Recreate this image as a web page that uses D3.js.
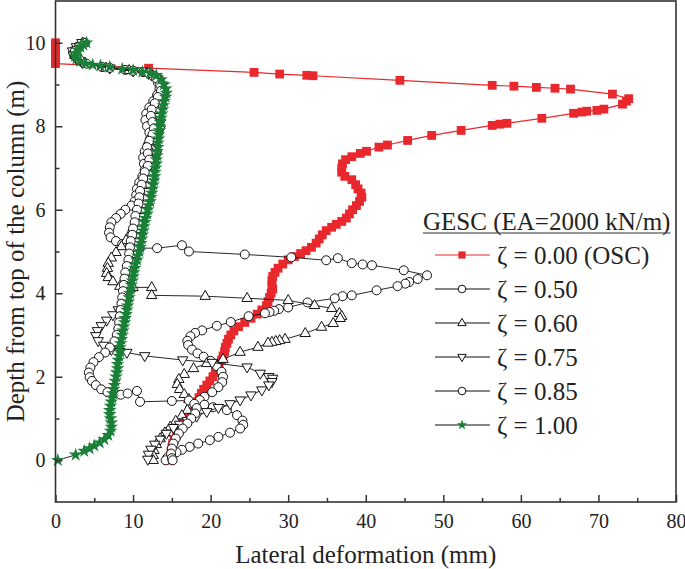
<!DOCTYPE html>
<html><head><meta charset="utf-8">
<script src="https://cdn.jsdelivr.net/npm/d3@7"></script>
<style>
body{margin:0;background:#fff}
svg{display:block}
text{font-family:"Liberation Serif","Times New Roman",serif;fill:#222}
</style>
</head><body>
<svg id="c" width="685" height="569"></svg>
<script>
// ---------- data ----------
const xTicks = [0,10,20,30,40,50,60,70,80];
const xMinor = [5,15,25,35,45,55,65,75];
const yTicks = [0,2,4,6,8,10];
const yMinor = [1,3,5,7,9];
const legendTitle = "GESC (EA=2000 kN/m)";
const seriesLabels = ["ζ = 0.00 (OSC)","ζ = 0.50","ζ = 0.60","ζ = 0.75","ζ = 0.85","ζ = 1.00"];

// [lateral deformation (mm), depth from top (m)]
const zeta000 = [[0,10.0],[0,9.95],[0,9.9],[0,9.85],[0,9.8],[0,9.75],[0,9.7],[0,9.65],[0,9.6],[0,9.55],[0,9.5],
[12.0,9.39],[25.6,9.29],[28.9,9.25],[32.4,9.22],[33.2,9.21],[44.4,9.1],[56.3,8.98],[59.1,8.96],[62.0,8.93],[64.4,8.91],[66.4,8.89],[71.8,8.77],[73.9,8.66],[73.6,8.6],[73.1,8.53],[70.7,8.41],[69.8,8.38],[68.5,8.36],[67.9,8.34],[66.8,8.31],[62.7,8.19],[58.2,8.07],[57.3,8.05],[56.3,8.02],[52.3,7.9],[48.5,7.78],[45.4,7.66],[42.8,7.55],[41.7,7.5],[40.1,7.4],[39.3,7.35],[38.2,7.27],[37.4,7.2],[37.0,7.1],[36.9,7.0],[36.9,6.9],[37.3,6.8],[38.2,6.72],[38.7,6.6],[39.0,6.5],[39.4,6.4],[39.5,6.3],[39.2,6.2],[38.8,6.1],[38.3,6.0],[37.9,5.9],[37.5,5.8],[36.9,5.72],[36.2,5.65],[35.6,5.58],[34.9,5.5],[34.4,5.4],[34.0,5.3],[33.6,5.2],[33.0,5.1],[32.3,5.02],[31.6,4.95],[30.8,4.88],[30.0,4.8],[29.3,4.7],[28.7,4.6],[28.3,4.5],[28.0,4.4],[27.9,4.3],[27.9,4.2],[28.0,4.1],[27.8,4.0],[27.6,3.9],[27.4,3.8],[27.2,3.7],[26.6,3.6],[26.0,3.5],[25.2,3.4],[24.4,3.3],[23.6,3.2],[23.0,3.1],[22.6,3.0],[22.3,2.9],[22.1,2.8],[21.9,2.7],[21.8,2.6],[21.6,2.5],[21.4,2.4],[21.1,2.3],[20.8,2.2],[20.6,2.1],[20.3,2.0],[19.9,1.9],[19.5,1.8],[19.1,1.7],[18.8,1.6],[18.5,1.5],[18.2,1.4],[17.9,1.3],[17.6,1.2],[17.2,1.1],[16.8,1.0],[16.5,0.9],[16.2,0.8],[15.9,0.7],[15.6,0.6],[15.3,0.5],[15.1,0.4],[15.0,0.3],[14.9,0.2],[14.8,0.1],[14.8,0.0]];

const zeta050 = [[3.6,10.0],[2.8,9.9],[2.3,9.8],[2.4,9.7],[2.9,9.6],[3.6,9.52],[6.0,9.42],[9.0,9.35],[11.3,9.3],[12.6,9.2],[13.2,9.05],[13.4,8.9],[13.1,8.75],[12.6,8.6],[12.1,8.45],[11.7,8.3],[11.6,8.15],[11.8,8.0],[12.1,7.85],[12.2,7.7],[11.9,7.55],[11.5,7.4],[11.3,7.25],[11.4,7.1],[11.5,6.95],[11.2,6.8],[10.8,6.65],[10.5,6.5],[10.4,6.35],[10.2,6.2],[9.8,6.1],[9.0,6.0],[8.4,5.9],[7.8,5.8],[7.2,5.7],[7.0,5.58],[6.9,5.45],[7.1,5.34],[7.8,5.25],[8.6,5.18],[9.6,5.12],[10.8,5.08],[13.1,5.08],[16.3,5.15],[17.2,5.0],[24.4,4.93],[30.4,4.86],[34.9,4.79],[36.4,4.84],[38.2,4.72],[39.6,4.69],[40.8,4.67],[44.9,4.55],[47.9,4.43],[46.7,4.34],[45.6,4.27],[45.1,4.23],[44.1,4.17],[41.4,4.07],[38.2,3.95],[37.0,3.93],[36.0,3.88],[32.5,3.78],[30.0,3.66],[28.8,3.62],[28.2,3.58],[27.6,3.55],[27.0,3.52],[24.9,3.45],[22.6,3.31],[20.8,3.22],[18.9,3.11],[18.0,3.05],[17.4,2.97],[17.0,2.86],[17.1,2.76],[17.6,2.65],[18.3,2.56],[19.1,2.48],[20.0,2.38],[20.8,2.25],[21.4,2.12],[21.6,2.0],[21.5,1.87],[21.0,1.75],[20.2,1.63],[19.2,1.52],[18.6,1.44],[19.2,1.33],[20.3,1.27],[22.1,1.2],[23.4,1.08],[24.1,0.95],[24.2,0.85],[23.8,0.76],[22.5,0.66],[21.0,0.56],[19.9,0.48],[18.4,0.4],[17.3,0.32],[16.3,0.25],[15.6,0.19],[14.9,0.12],[14.4,0.06],[14.2,0.0]];

const zeta060 = [[3.5,10.0],[2.9,9.9],[2.4,9.8],[2.5,9.7],[3.0,9.6],[3.8,9.52],[6.5,9.4],[9.5,9.34],[11.8,9.28],[13.0,9.17],[13.7,9.02],[13.9,8.87],[13.7,8.72],[13.4,8.57],[13.1,8.42],[13.0,8.27],[13.2,8.12],[13.3,7.97],[13.0,7.82],[12.7,7.67],[12.6,7.52],[12.8,7.37],[12.7,7.22],[12.4,7.07],[12.1,6.92],[12.0,6.77],[11.8,6.62],[11.5,6.47],[11.3,6.32],[11.1,6.17],[10.9,6.02],[10.6,5.87],[10.3,5.72],[10.0,5.57],[9.6,5.42],[9.1,5.27],[8.5,5.12],[7.8,4.98],[7.2,4.85],[6.8,4.72],[6.7,4.6],[6.6,4.48],[6.8,4.38],[7.4,4.28],[8.3,4.17],[10.0,4.14],[12.4,4.14],[12.4,3.95],[19.3,3.93],[24.7,3.88],[30.0,3.83],[33.4,3.71],[35.6,3.64],[36.6,3.52],[36.9,3.45],[36.7,3.4],[35.8,3.28],[34.3,3.19],[32.2,3.04],[29.6,2.9],[28.9,2.87],[28.4,2.85],[27.9,2.83],[27.4,2.81],[26.1,2.71],[23.8,2.59],[21.6,2.42],[19.5,2.32],[17.8,2.2],[16.6,2.06],[15.9,1.94],[15.7,1.82],[16.0,1.7],[16.6,1.58],[17.2,1.46],[17.4,1.33],[17.0,1.2],[16.3,1.07],[15.5,0.94],[14.8,0.8],[14.1,0.66],[13.5,0.52],[13.0,0.38],[12.7,0.24],[12.6,0.12],[12.6,0.0]];

const zeta075 = [[3.4,10.0],[2.7,9.9],[2.2,9.8],[2.3,9.7],[2.8,9.6],[3.5,9.52],[7.0,9.39],[10.0,9.32],[12.0,9.26],[13.2,9.13],[13.8,8.98],[14.0,8.83],[13.8,8.68],[13.5,8.53],[13.3,8.38],[13.3,8.23],[13.5,8.08],[13.5,7.93],[13.2,7.78],[12.9,7.63],[12.9,7.48],[13.0,7.33],[12.8,7.18],[12.5,7.03],[12.3,6.88],[12.2,6.73],[12.0,6.58],[11.8,6.43],[11.6,6.28],[11.4,6.13],[11.2,5.98],[11.0,5.83],[10.8,5.68],[10.7,5.53],[10.5,5.38],[10.4,5.23],[10.2,5.08],[10.0,4.93],[9.9,4.78],[9.7,4.63],[9.6,4.48],[9.5,4.33],[9.3,4.18],[9.1,4.03],[8.9,3.88],[8.6,3.73],[8.1,3.6],[7.4,3.48],[6.6,3.35],[5.9,3.22],[5.4,3.1],[5.2,2.98],[5.5,2.86],[6.2,2.75],[7.2,2.65],[8.3,2.6],[9.2,2.58],[11.5,2.5],[16.4,2.4],[20.2,2.34],[24.7,2.23],[26.4,2.08],[27.5,2.0],[28.0,1.96],[27.9,1.88],[27.5,1.8],[26.6,1.68],[25.2,1.56],[23.8,1.44],[22.5,1.35],[21.0,1.26],[19.5,1.16],[18.2,1.05],[17.0,0.95],[16.0,0.86],[15.2,0.78],[14.3,0.64],[13.5,0.5],[12.8,0.38],[12.3,0.26],[12.0,0.14],[11.9,0.02]];

const zeta085 = [[3.8,10.0],[3.0,9.9],[2.5,9.8],[2.6,9.7],[3.1,9.6],[4.0,9.5],[7.0,9.4],[10.0,9.33],[12.0,9.27],[13.0,9.15],[13.5,9.0],[13.6,8.85],[13.2,8.7],[12.8,8.55],[12.4,8.4],[12.3,8.25],[12.5,8.1],[12.7,7.95],[12.5,7.8],[12.1,7.65],[11.8,7.5],[11.9,7.35],[12.1,7.2],[11.9,7.05],[11.5,6.9],[11.3,6.75],[11.1,6.6],[10.9,6.45],[10.8,6.3],[10.7,6.15],[10.5,6.0],[10.3,5.85],[10.2,5.7],[10.0,5.55],[9.9,5.4],[9.7,5.25],[9.6,5.1],[9.5,4.95],[9.4,4.8],[9.2,4.65],[9.0,4.5],[8.9,4.35],[8.8,4.2],[8.7,4.05],[8.6,3.9],[8.5,3.75],[8.4,3.6],[8.3,3.45],[8.2,3.3],[8.1,3.15],[7.9,3.0],[7.6,2.85],[7.0,2.7],[6.4,2.58],[5.6,2.47],[4.9,2.35],[4.5,2.22],[4.3,2.1],[4.4,1.99],[4.7,1.9],[5.2,1.8],[5.9,1.7],[6.7,1.63],[7.6,1.6],[8.4,1.57],[9.3,1.6],[10.5,1.66],[10.9,1.4],[15.0,1.42],[17.2,1.43],[17.9,1.35],[18.2,1.25],[18.0,1.12],[17.5,1.0],[17.0,0.88],[16.4,0.76],[15.9,0.64],[15.5,0.52],[15.2,0.4],[15.0,0.28],[14.9,0.16],[15.0,0.05],[15.1,0.0]];

const zeta100 = [[4.0,10.0],[3.6,9.95],[3.2,9.9],[2.9,9.83],[2.6,9.75],[2.5,9.68],[2.7,9.62],[3.2,9.56],[3.9,9.5],[4.8,9.47],[5.8,9.45],[7.0,9.42],[8.6,9.37],[10.0,9.34],[11.2,9.3],[12.2,9.27],[13.0,9.22],[13.6,9.12],[14.0,9.0],[14.2,8.9],[14.3,8.8],[14.2,8.7],[14.0,8.6],[13.9,8.5],[13.8,8.4],[13.7,8.3],[13.6,8.2],[13.5,8.1],[13.4,8.0],[13.4,7.9],[13.3,7.8],[13.3,7.7],[13.2,7.6],[13.2,7.5],[13.1,7.4],[13.1,7.3],[13.0,7.2],[13.0,7.1],[12.9,7.0],[12.8,6.9],[12.8,6.8],[12.7,6.7],[12.6,6.6],[12.5,6.5],[12.4,6.4],[12.3,6.3],[12.2,6.2],[12.0,6.1],[11.9,6.0],[11.8,5.9],[11.6,5.8],[11.5,5.7],[11.4,5.6],[11.3,5.5],[11.2,5.4],[11.1,5.3],[11.0,5.2],[10.9,5.1],[10.8,5.0],[10.6,4.9],[10.5,4.8],[10.3,4.7],[10.2,4.6],[10.1,4.5],[10.0,4.4],[9.9,4.3],[9.8,4.2],[9.7,4.1],[9.6,4.0],[9.5,3.9],[9.4,3.8],[9.3,3.7],[9.2,3.6],[9.1,3.5],[9.0,3.4],[8.9,3.3],[8.8,3.2],[8.7,3.1],[8.6,3.0],[8.5,2.9],[8.4,2.8],[8.3,2.7],[8.3,2.6],[8.2,2.5],[8.1,2.4],[8.0,2.3],[8.0,2.2],[7.9,2.1],[7.8,2.0],[7.7,1.9],[7.6,1.8],[7.5,1.7],[7.4,1.6],[7.3,1.5],[7.2,1.4],[7.1,1.3],[7.0,1.2],[7.0,1.1],[7.1,1.0],[7.2,0.9],[7.2,0.8],[7.1,0.7],[6.8,0.6],[6.3,0.5],[5.7,0.42],[5.0,0.35],[4.4,0.28],[3.7,0.22],[2.6,0.13],[0.3,0.0]];

// ---------- layout ----------
const svg=d3.select("#c");
const x=d3.scaleLinear().domain([0,80]).range([55.5,676]);
const y=d3.scaleLinear().domain([-1,11]).range([502,1]);
const RED="#e8282c", GREEN="#1a7f37", INK="#222";

const markerPaths={
  square:"M-4.4,-4.4H4.4V4.4H-4.4Z",
  up:"M0,-5.8L5.2,3.2L-5.2,3.2Z",
  down:"M0,5.8L5.2,-3.2L-5.2,-3.2Z",
  star:d3.symbol(d3.symbolStar,58)()
};
const legendMarkerPaths={
  square:"M-3.6,-3.6H3.6V3.6H-3.6Z",
  up:"M0,-4.6L4.2,2.6L-4.2,2.6Z",
  down:"M0,4.6L4.2,-2.6L-4.2,-2.6Z",
  star:d3.symbol(d3.symbolStar,34)()
};

const series=[
  {label:seriesLabels[0],data:zeta000,marker:"square",fill:RED,stroke:"none",line:RED,lw:1.2},
  {label:seriesLabels[1],data:zeta050,marker:"circle",fill:"#fff",stroke:"#111",line:"#111",lw:0.9},
  {label:seriesLabels[2],data:zeta060,marker:"up",fill:"#fff",stroke:"#111",line:"#111",lw:0.9},
  {label:seriesLabels[3],data:zeta075,marker:"down",fill:"#fff",stroke:"#111",line:"#111",lw:0.9},
  {label:seriesLabels[4],data:zeta085,marker:"circle",fill:"#fff",stroke:"#111",line:"#111",lw:0.9},
  {label:seriesLabels[5],data:zeta100,marker:"star",fill:GREEN,stroke:"none",line:"#111",lw:0.9}
];

const plot=svg.append("g");
const lineGen=d3.line().x(d=>x(d[0])).y(d=>y(d[1]));

function drawMarker(g,m,fill,stroke,paths,r){
  if(m==="circle"){
    g.append("circle").attr("r",r).attr("fill",fill).attr("stroke",stroke).attr("stroke-width",1);
  } else {
    g.append("path").attr("d",paths[m]).attr("fill",fill).attr("stroke",stroke).attr("stroke-width",1);
  }
}

series.forEach(s=>{
  const g=plot.append("g");
  g.append("path").attr("d",lineGen(s.data)).attr("fill","none").attr("stroke",s.line).attr("stroke-width",s.lw);
  s.data.forEach(d=>{
    const mg=g.append("g").attr("transform",`translate(${x(d[0])},${y(d[1])})`);
    drawMarker(mg,s.marker,s.fill,s.stroke,markerPaths,4.5);
  });
});

// ---------- axes ----------
const xAxis=svg.append("g").attr("transform",`translate(0,${y(-1)})`)
  .call(d3.axisBottom(x).tickValues(xTicks).tickSizeInner(-7).tickSizeOuter(0).tickPadding(12).tickFormat(d3.format("d")));
const xAxisMinor=svg.append("g").attr("transform",`translate(0,${y(-1)})`)
  .call(d3.axisBottom(x).tickValues(xMinor).tickSizeInner(-4).tickSizeOuter(0).tickFormat(""));
const yAxis=svg.append("g").attr("transform",`translate(${x(0)},0)`)
  .call(d3.axisLeft(y).tickValues(yTicks).tickSizeInner(-7).tickSizeOuter(0).tickPadding(10).tickFormat(d3.format("d")));
const yAxisMinor=svg.append("g").attr("transform",`translate(${x(0)},0)`)
  .call(d3.axisLeft(y).tickValues(yMinor).tickSizeInner(-4).tickSizeOuter(0).tickFormat(""));
[xAxis,xAxisMinor,yAxis,yAxisMinor].forEach(a=>{
  a.select(".domain").remove();
  a.selectAll(".tick line").attr("stroke","#333").attr("stroke-width",1.5);
  a.selectAll(".tick text").attr("font-family","Liberation Serif").attr("font-size",20).attr("fill",INK);
});

// frame
svg.append("rect").attr("x",x(0)).attr("y",y(11)).attr("width",x(80)-x(0)).attr("height",y(-1)-y(11))
  .attr("fill","none").attr("stroke","#333").attr("stroke-width",1.6);

// axis titles
svg.append("text").attr("x",(x(0)+x(80))/2).attr("y",563).attr("text-anchor","middle")
  .attr("font-size",25).text("Lateral deformation (mm)");
svg.append("text").attr("transform",`translate(24,${y(5)}) rotate(-90)`).attr("text-anchor","middle")
  .attr("font-size",25).text("Depth from top of the column (m)");

// ---------- legend ----------
const lg=svg.append("g");
const title=lg.append("text").attr("x",423).attr("y",230).attr("font-size",25).text(legendTitle);
const tw=title.node().getComputedTextLength();
lg.append("line").attr("x1",423).attr("x2",423+tw).attr("y1",233).attr("y2",233).attr("stroke","#333").attr("stroke-width",1.2);
const rowY=[255,289,323,357,391,425];
series.forEach((s,i)=>{
  const ry=rowY[i];
  lg.append("line").attr("x1",435).attr("x2",490).attr("y1",ry).attr("y2",ry)
    .attr("stroke",i===0?RED:"#111").attr("stroke-width",1.2);
  const mg=lg.append("g").attr("transform",`translate(462,${ry})`);
  drawMarker(mg,s.marker,s.fill,s.stroke,legendMarkerPaths,3.8);
  lg.append("text").attr("x",497).attr("y",ry+9).attr("font-size",25).text(s.label);
});
</script>
</body></html>
